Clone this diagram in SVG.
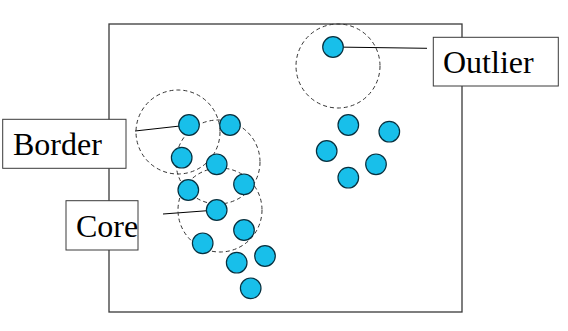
<svg xmlns="http://www.w3.org/2000/svg" width="568" height="331" viewBox="0 0 568 331">
<style>
.frame{fill:#fff;stroke:#3a3a3a;stroke-width:1.3}
.box{fill:#fff;stroke:#3a3a3a;stroke-width:1}
.lbl{font-family:"Liberation Serif","Times New Roman",serif;font-size:32px;fill:#000}
.eps{fill:none;stroke:#333;stroke-width:1;stroke-dasharray:4 3}
.pt{fill:#18BFEA;stroke:#06303f;stroke-width:1.2}
.ln{stroke:#000;stroke-width:1;fill:none}
</style>
<rect width="568" height="331" fill="#fff"/>
<rect class="frame" x="109" y="24" width="353" height="288"/>
<g id="connectors">
<line class="ln" x1="135" y1="131" x2="189" y2="125"/>
<line class="ln" x1="163" y1="214" x2="216.7" y2="210"/>
<line class="ln" x1="333" y1="47" x2="427" y2="48.3"/>
</g>
<g id="neighborhoods">
<circle class="eps" cx="178" cy="132" r="42"/>
<circle class="eps" cx="218" cy="162" r="42"/>
<circle class="eps" cx="220" cy="210" r="42"/>
<circle class="eps" cx="338" cy="66" r="42"/>
</g>
<g id="points">
<circle class="pt" cx="189" cy="125" r="10.3"/>
<circle class="pt" cx="230" cy="125" r="10.3"/>
<circle class="pt" cx="181.7" cy="157.7" r="10.3"/>
<circle class="pt" cx="216.7" cy="164.3" r="10.3"/>
<circle class="pt" cx="244" cy="184.3" r="10.3"/>
<circle class="pt" cx="188.3" cy="190" r="10.3"/>
<circle class="pt" cx="216.7" cy="210" r="10.3"/>
<circle class="pt" cx="244" cy="230" r="10.3"/>
<circle class="pt" cx="202.7" cy="243.3" r="10.3"/>
<circle class="pt" cx="236.7" cy="262.7" r="10.3"/>
<circle class="pt" cx="265" cy="256" r="10.3"/>
<circle class="pt" cx="250.7" cy="288.3" r="10.3"/>
<circle class="pt" cx="333" cy="47" r="10.3"/>
<circle class="pt" cx="348.3" cy="125" r="10.3"/>
<circle class="pt" cx="389.3" cy="131.7" r="10.3"/>
<circle class="pt" cx="326.7" cy="151" r="10.3"/>
<circle class="pt" cx="376" cy="164.3" r="10.3"/>
<circle class="pt" cx="348.3" cy="177.7" r="10.3"/>
</g>
<g id="border">
<rect class="box" x="2.7" y="119.3" width="123.3" height="49"/>
<text class="lbl" x="13" y="155">Border</text>
</g>
<g id="core">
<rect class="box" x="66" y="200.7" width="72" height="49.3"/>
<text class="lbl" x="76" y="237">Core</text>
</g>
<g id="outlier">
<rect class="box" x="433.3" y="37.3" width="125" height="48.7"/>
<text class="lbl" x="443" y="73">Outlier</text>
</g>
</svg>
